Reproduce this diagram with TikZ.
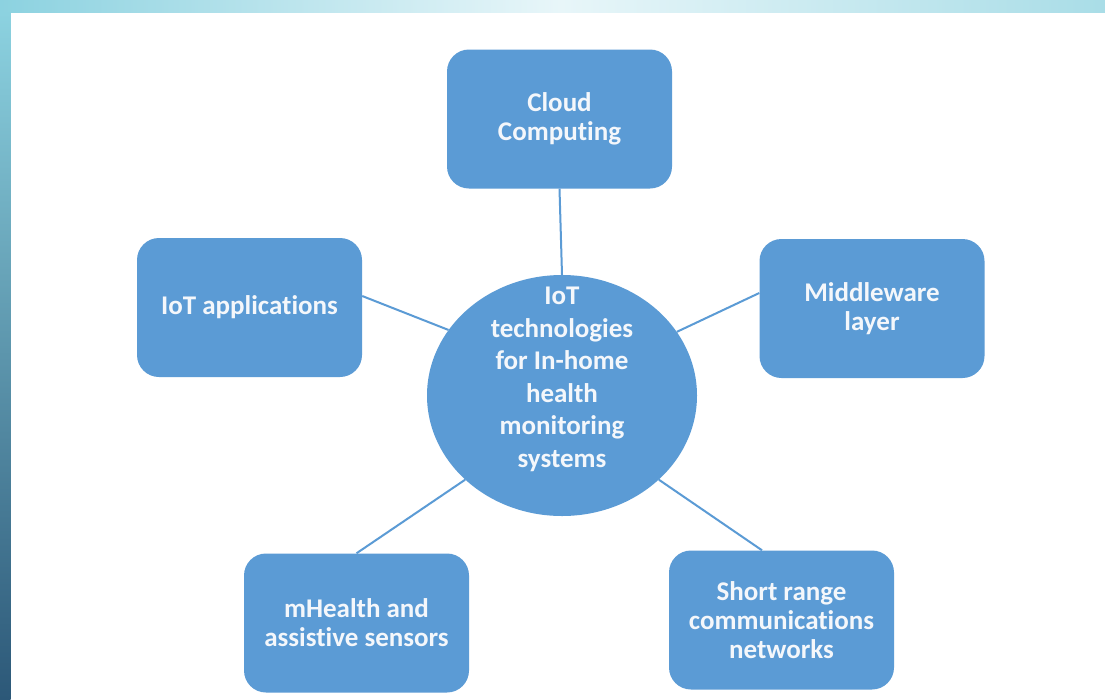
\documentclass[tikz,border=0pt]{standalone}
\usepackage{fontspec}
\setmainfont[Ligatures=NoCommon]{Carlito}
\usetikzlibrary{shapes.geometric}

\definecolor{boxblue}{HTML}{5B9BD5}
\definecolor{stripcyan}{HTML}{8CD2E0}
\definecolor{stripmid}{HTML}{E8F6F9}
\definecolor{stripend}{HTML}{A9DDE7}
\definecolor{edgedark}{HTML}{2C5878}
\definecolor{labelwhite}{HTML}{F4F7FB}

\tikzset{
  topic/.style={fill=boxblue, rounded corners=22pt, minimum width=225pt,
    minimum height=139pt, inner sep=0pt, text=labelwhite, align=center,
    font=\fontsize{27}{29}\selectfont\bfseries},
  hub/.style={ellipse, fill=boxblue, minimum width=270pt, minimum height=241pt,
    inner sep=0pt},
  hubtext/.style={text=labelwhite, align=center, font=\fontsize{27}{32.5}\selectfont\bfseries},
  spoke/.style={draw=boxblue, line width=2pt}
}

\begin{document}
\begin{tikzpicture}[x=1pt, y=-1pt]
                % Frame
                \useasboundingbox (0, 0) rectangle (1105, 699);
                \fill [white] (0, 0) rectangle (1105, 699);
                \shade [left color=stripcyan, right color=stripmid] (0, 0) rectangle (560, 12.5);
                \shade [left color=stripmid, right color=stripend] (560, 0) rectangle (1105, 12.5);
                \shade [top color=stripcyan, bottom color=edgedark] (0, 12.5) rectangle (10.5, 699);
                % Centre
                \node [hub, label={[hubtext, yshift=16pt]center:IoT\\technologies\\for In-home\\health\\monitoring\\systems}] (hub) at (562, 395.5) {};
                % Topics
                \node [topic] (cloud) at (559.5, 119) {Cloud\\Computing};
                \node [topic] (apps) at (249.5, 307.5) {IoT applications};
                \node [topic] (middleware) at (872, 308.5) {Middleware\\layer};
                \node [topic] (mhealth) at (356.5, 623) {mHealth and\\assistive sensors};
                \node [topic] (shortrange) at (781.5, 620) {Short range\\communications\\networks};
                % Spokes
                \draw [spoke] (cloud.south) -- (hub.north);
                \draw [spoke] ([yshift=11.5pt]apps.east) -- (hub.150);
                \draw [spoke] ([yshift=15.5pt]middleware.west) -- (hub.29);
                \draw [spoke] (mhealth.north) -- (hub.221);
                \draw [spoke] ([xshift=-19.5pt]shortrange.north) -- (hub.319);
\end{tikzpicture}
\end{document}
